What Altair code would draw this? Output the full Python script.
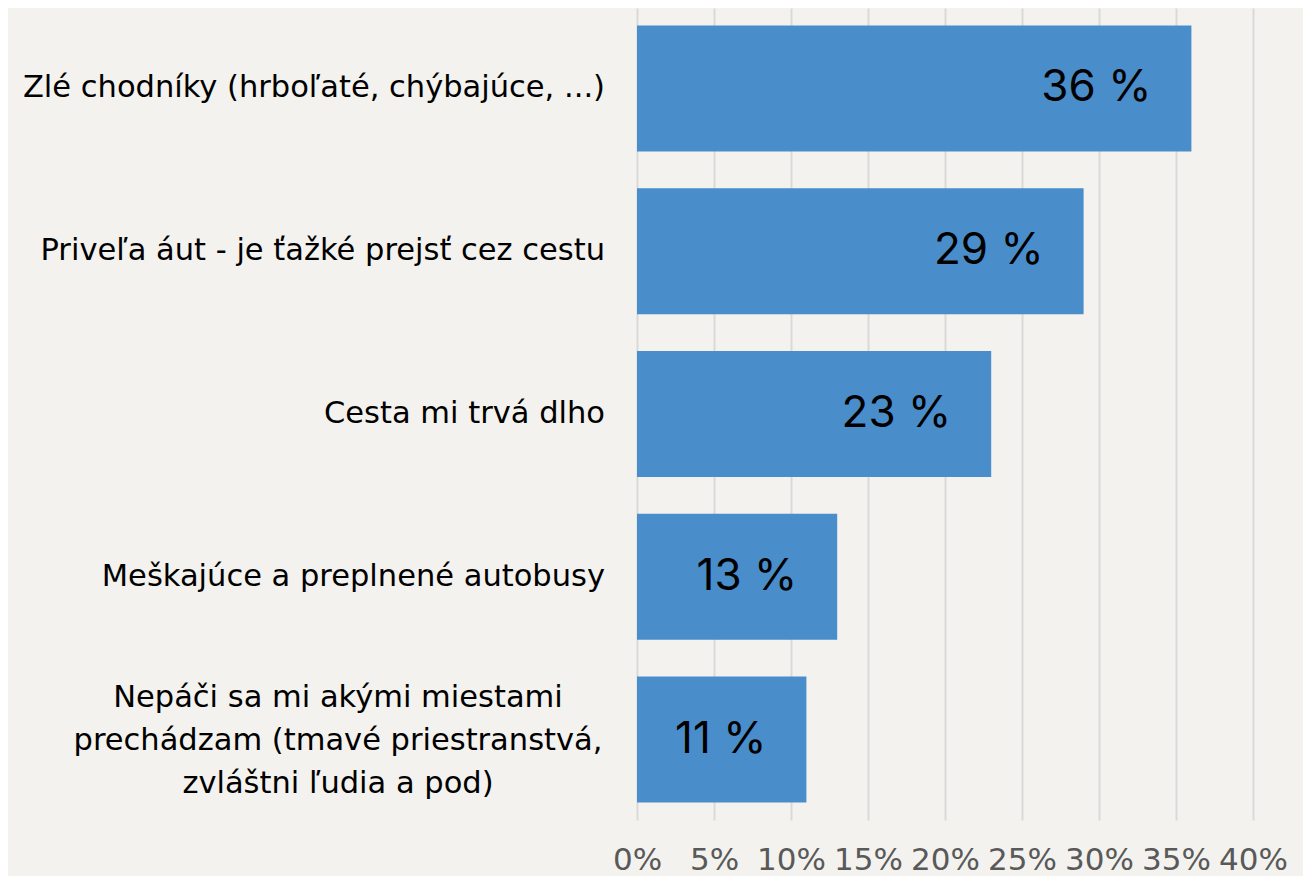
import altair as alt
import pandas as pd

categories = [
    "Zlé chodníky (hrboľaté, chýbajúce, ...)",
    "Priveľa áut - je ťažké prejsť cez cestu\u00a0",
    "Cesta mi trvá dlho\u00a0",
    "Meškajúce a preplnené autobusy",
    "Nepáči sa mi akými miestami\nprechádzam (tmavé priestranstvá,\nzvláštni ľudia a pod)",
]
values = [0.36, 0.29, 0.23, 0.13, 0.11]
value_labels = ["36 %", "29 %", "23 %", "13 %", "11 %"]
tick_values = [0, 0.05, 0.10, 0.15, 0.20, 0.25, 0.30, 0.35, 0.40]

df = pd.DataFrame({
    "cat": categories,
    "value": values,
    "label": value_labels,
    "multi": [("\n" in c) for c in categories],
})

FONT = "DejaVu Sans"
VFONT = "Inter"

y_enc = alt.Y(
    "cat:N",
    sort=categories,
    axis=None,
    scale=alt.Scale(paddingInner=0.226, paddingOuter=0.107),
)

bars = alt.Chart(df).mark_bar(color="#4a8dcb").encode(
    x=alt.X(
        "value:Q",
        scale=alt.Scale(domain=[0, 0.40], nice=False),
        axis=alt.Axis(
            values=tick_values,
            format=".0%",
            title=None,
            grid=True,
            gridColor="#d9d9d9",
            gridWidth=2,
            domain=False,
            ticks=False,
            labelFont=FONT,
            labelFontSize=31,
            labelColor="#595959",
            labelPadding=25,
            labelFlush=False,
        ),
    ),
    y=y_enc,
)

val_text = alt.Chart(df).mark_text(
    align="right", baseline="middle", dx=-40, font=VFONT, fontSize=44, color="#000000"
).encode(x="value:Q", y=y_enc, text="label:N")

cat_single = alt.Chart(df).transform_filter("!datum.multi").mark_text(
    align="right", baseline="middle", dx=-32, font=FONT, fontSize=30.5, color="#000000"
).encode(x=alt.value(0), y=y_enc, text="cat:N")

cat_multi = alt.Chart(df).transform_filter("datum.multi").transform_calculate(
    lines="split(datum.cat, '\\n')"
).mark_text(
    align="center", baseline="middle", dx=-299, dy=-42, font=FONT, fontSize=30.5,
    lineHeight=43, color="#000000"
).encode(x=alt.value(0), y=y_enc, text="lines:N")

chart = alt.layer(bars, val_text, cat_single, cat_multi).properties(
    width=616,
    height=812,
    autosize=alt.AutoSizeParams(type="none"),
    padding={"left": 629, "top": 0, "right": 50, "bottom": 56},
    background="#f3f2ee",
).configure_view(stroke=None)

chart.save("out.html", embed_options={"renderer": "svg", "actions": False})
